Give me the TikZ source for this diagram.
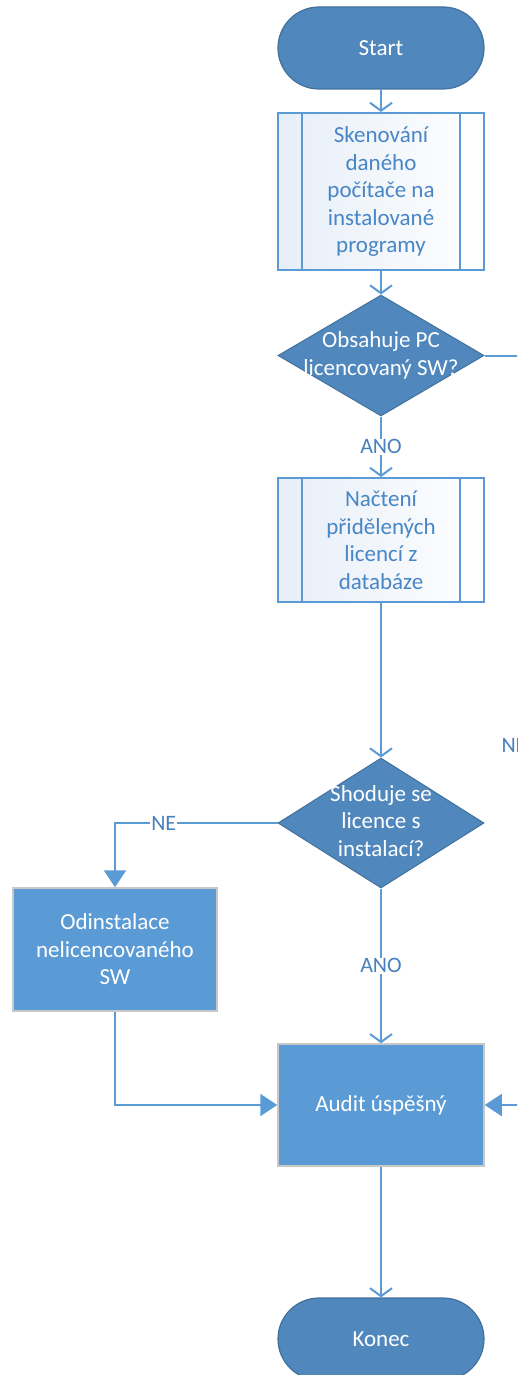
\documentclass[tikz,border=0pt]{standalone}
\usepackage{fontspec}
\setmainfont{Carlito}
\usetikzlibrary{arrows.meta,shapes.geometric}

\definecolor{darkfill}{RGB}{80,135,188}
\definecolor{darkedge}{RGB}{65,113,156}
\definecolor{procfill}{RGB}{91,155,213}
\definecolor{procedge}{RGB}{200,200,200}
\definecolor{flowline}{RGB}{91,155,213}
\definecolor{subedge}{RGB}{91,155,213}
\definecolor{subfill}{RGB}{230,238,248}
\definecolor{subtext}{RGB}{72,134,198}
\definecolor{lbltext}{RGB}{72,128,190}

\tikzset{
  txt/.style={font=\fontsize{23}{27.5}\selectfont, align=center},
  terminal/.style={draw=darkedge, line width=1.2pt, fill=darkfill, rounded corners=41pt,
    minimum width=206pt, minimum height=82pt, inner sep=0pt, text=white, txt},
  subproc/.style={draw=subedge, line width=2pt, left color=subfill, right color=white,
    minimum width=206pt, inner sep=0pt, text=subtext, txt},
  decision/.style={diamond, draw=darkedge, line width=1pt, fill=darkfill, inner sep=0pt,
    minimum width=206pt},
  dtext/.style={text=white, txt},
  process/.style={draw=procedge, line width=1.5pt, fill=procfill, inner sep=0pt,
    text=white, txt},
  link/.style={draw=flowline, line width=2pt},
  openarrow/.style={link, -{Straight Barb[length=8pt,width=22pt,line width=2pt]}},
  fillarrow/.style={link, -{Triangle[length=17pt,width=22pt]}},
  lbl/.style={fill=white, text=lbltext, font=\fontsize{22}{25}\selectfont, inner sep=1pt}
}

\begin{document}
\begin{tikzpicture}[x=1pt,y=-1pt]
  \useasboundingbox (0,0) rectangle (517,1375);
  \clip (0,0) rectangle (517,1375);

  % main column
  \node[terminal] (start) at (381,48) {Start};
  \node[subproc, minimum height=157pt] (scan) at (381,191.5)
    {Skenování\\daného\\počítače na\\instalované\\programy};
  \node[decision, minimum height=121pt] (q1) at (381,355.5) {};
  \node[dtext] (q1t) at (q1.center) {Obsahuje PC\\licencovaný SW?};
  \node[subproc, minimum height=124pt] (load) at (381,540)
    {Načtení\\přidělených\\licencí z\\databáze};
  \node[decision, minimum height=130pt] (q2) at (381,823) {};
  \node[dtext] (q2t) at ([yshift=2pt]q2.center) {Shoduje se\\licence s\\instalací?};
  \node[process, minimum width=204pt, minimum height=123pt] (remove) at (115,949.5)
    {Odinstalace\\nelicencovaného\\SW};
  \node[process, minimum width=206pt, minimum height=122pt] (audit) at (381,1105)
    {Audit úspěšný};
  \node[terminal] (end) at (381,1339) {Konec};

  % inner bars of the predefined-process boxes
  \foreach \b in {scan,load}{
    \draw[draw=subedge, line width=2pt] ([xshift=25pt]\b.north west) -- ([xshift=25pt]\b.south west);
    \draw[draw=subedge, line width=2pt] ([xshift=-25pt]\b.north east) -- ([xshift=-25pt]\b.south east);
  }

  % side route for the "NE" branch of the first question
  \coordinate (rtop) at (522,355.5);
  \coordinate (rbot) at (522,1105);

  % connectors
  \draw[openarrow] (start) -- (scan);
  \draw[openarrow] (scan) -- (q1);
  \draw[openarrow] (q1) -- node[lbl] {ANO} (load);
  \draw[openarrow] (load) -- (q2);
  \draw[fillarrow] (q2.west) -| node[lbl, pos=0.35] {NE} (remove.north);
  \draw[openarrow] (q2) -- node[lbl] {ANO} (audit);
  \draw[fillarrow] (remove.south) |- (audit.west);
  \draw[fillarrow] (q1.east) -- (rtop) -- node[lbl, pos=0.52, xshift=-8pt] {NE} (rbot) -- (audit.east);
  \draw[openarrow] (audit) -- (end);
\end{tikzpicture}
\end{document}
